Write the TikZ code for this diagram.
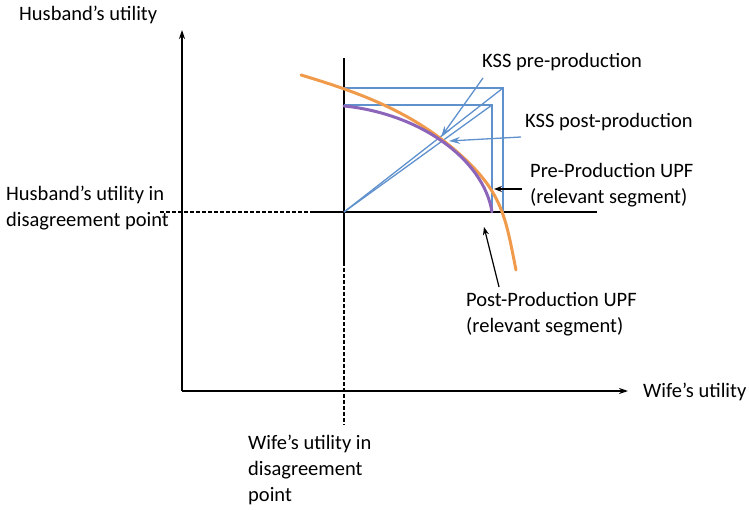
\documentclass[tikz,border=0pt]{standalone}
\usepackage{fontspec}
\setmainfont{Carlito}
\usepackage{tikz}
\usetikzlibrary{arrows.meta, positioning}
\definecolor{upfpre}{RGB}{240,155,75}
\definecolor{upfpost}{RGB}{140,100,185}
\definecolor{kssblue}{RGB}{95,145,205}
\tikzset{
  axis/.style={line width=2.4pt, black},
  axisarr/.style={axis, -{Stealth[length=9pt, width=6pt]}},
  dis/.style={black, line width=1.5pt, dash pattern=on 4pt off 2pt},
  upf/.style={line width=3pt, line cap=round},
  kssline/.style={kssblue, line width=1.3pt},
  kssarr/.style={kssline, -{Stealth[length=11pt, width=7pt]}},
  pointer/.style={black, line width=1.2pt, -{Stealth[length=8pt, width=6pt]}},
  lbl/.style={font=\fontsize{20.5}{26}\selectfont, align=left, inner sep=0pt,
              anchor=west}
}

\begin{document}
\begin{tikzpicture}[x=1pt, y=1pt]
  \useasboundingbox (0,0) rectangle (749,509);
  % outer axes
  \coordinate (O) at (182,118);
  \coordinate (ytip) at (182,479);
  \coordinate (xtip) at (628,118);
  \draw[axisarr] (O) -- (ytip);
  \draw[axisarr] (O) -- (xtip);
  \node[lbl] (husb) at (19,494) {Husband’s utility};
  \node[lbl] (wife) at (643,117) {Wife’s utility};
  % disagreement point and its axes
  \coordinate (D) at (344,297);
  \coordinate (dTop) at (344,451);
  \coordinate (dBot) at (344,247);
  \coordinate (dLeft) at (313,297);
  \coordinate (dRight) at (597,297);
  \coordinate (dashW) at (160,297);
  \coordinate (dashS) at (344,84);
  \draw[axis] (dTop) -- (dBot);
  \draw[axis] (dLeft) -- (dRight);
  \draw[dis] (dashW) -- (dLeft);
  \draw[dis] (dBot) -- (dashS);
  \node[lbl] (husbDis) at (6,300.5) {Husband’s utility in\\disagreement point};
  \node[lbl] (wifeDis) at (248,39) {Wife’s utility in\\disagreement\\point};
  % KSS rectangles and rays
  \coordinate (P) at (503,421);
  \coordinate (Q) at (492,404);
  \draw[kssline] (344,421) -- (P) -- (503,297);
  \draw[kssline] (344,404) -- (Q) -- (492,297);
  \draw[kssline] (D) -- (P);
  \draw[kssline] (D) -- (Q);
  % utility possibility frontiers
  \draw[upf, upfpre] (301,434) .. controls (365.2,414.8) and (418.8,394.2)
    .. (467,348) .. controls (503,313.5) and (506.2,288) .. (516,239);
  \draw[upf, upfpost] (344,403) .. controls (419.9,395.4) and (483.6,349.8)
    .. (492,297);
  % labels with pointers
  \node[lbl] (kssPre) at (482,447) {KSS pre-production};
  \node[lbl] (kssPost) at (525,387) {KSS post-production};
  \node[lbl] (preUPF) at (530,324) {Pre-Production UPF\\(relevant segment)};
  \node[lbl] (postUPF) at (466,194.5) {Post-Production UPF\\(relevant segment)};
  \coordinate (kssPreTail) at (483,431);
  \coordinate (kssPreTip) at (441,372);
  \coordinate (kssPostTail) at (521,372);
  \coordinate (kssPostTip) at (449,368);
  \coordinate (preTail) at (522,320);
  \coordinate (preTip) at (494,320);
  \coordinate (postTail) at (499,222);
  \coordinate (postTip) at (484,282);
  \draw[kssarr] (kssPreTail) -- (kssPreTip);
  \draw[kssarr] (kssPostTail) -- (kssPostTip);
  \draw[pointer] (preTail) -- (preTip);
  \draw[pointer] (postTail) -- (postTip);
\end{tikzpicture}
\end{document}
